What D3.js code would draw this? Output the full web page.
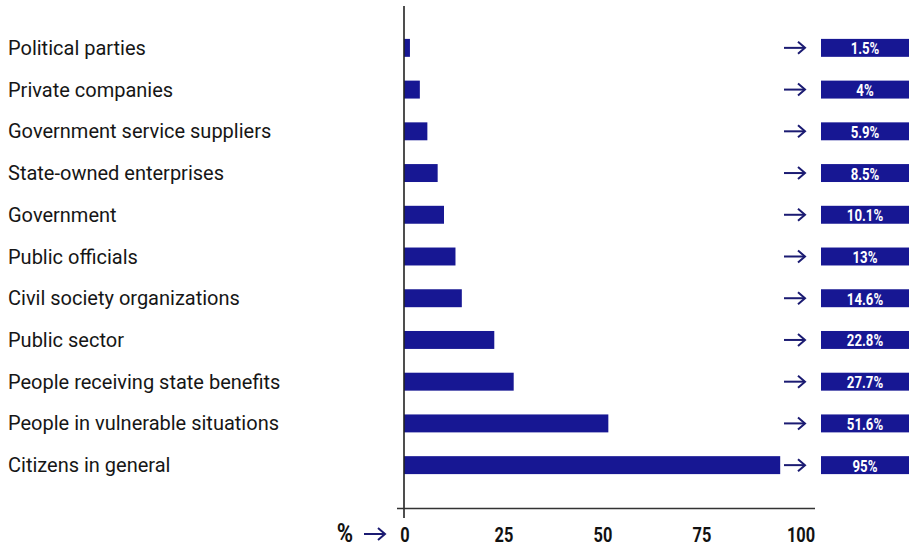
<!DOCTYPE html>
<html>
<head>
<meta charset="utf-8">
<script src="https://cdn.jsdelivr.net/npm/d3@7"></script>
<style>
  html, body { margin: 0; padding: 0; background: #fff; }
  svg { display: block; }
</style>
</head>
<body>
<svg id="chart" width="913" height="547"></svg>
<script>
const categories = [
  "Political parties",
  "Private companies",
  "Government service suppliers",
  "State-owned enterprises",
  "Government",
  "Public officials",
  "Civil society organizations",
  "Public sector",
  "People receiving state benefits",
  "People in vulnerable situations",
  "Citizens in general"
];
const values = [1.5, 4, 5.9, 8.5, 10.1, 13, 14.6, 22.8, 27.7, 51.6, 95];
const valueLabels = ["1.5%", "4%", "5.9%", "8.5%", "10.1%", "13%", "14.6%", "22.8%", "27.7%", "51.6%", "95%"];
const tickValues = [0, 25, 50, 75, 100];
const axisUnit = "%";

const barColor = "#171793";
const arrowColor = "#1b1b72";

const svg = d3.select("#chart");

const x = d3.scaleLinear().domain([0, 100]).range([404, 800]);
const y = d3.scaleBand().domain(categories).range([27, 486]).paddingInner(0.57).paddingOuter(0.285);

// bars
svg.append("g").selectAll("rect")
  .data(categories)
  .join("rect")
  .attr("x", x(0))
  .attr("y", d => y(d))
  .attr("width", (d, i) => x(values[i]) - x(0))
  .attr("height", y.bandwidth())
  .attr("fill", barColor);

// category labels
svg.append("g").selectAll("text")
  .data(categories)
  .join("text")
  .attr("x", 8)
  .attr("y", d => y(d) + y.bandwidth() / 2)
  .attr("dominant-baseline", "central")
  .attr("font-family", "Roboto, 'Noto Sans', sans-serif")
  .attr("font-size", 20)
  .attr("fill", "#161616")
  .text(d => d);

// arrow helper
function arrow(g, x0, yc, w, col) {
  g.append("line")
    .attr("x1", x0).attr("x2", x0 + w - 1)
    .attr("y1", yc).attr("y2", yc)
    .attr("stroke", col).attr("stroke-width", 2);
  g.append("path")
    .attr("d", `M${x0 + w - 7},${yc - 6} L${x0 + w},${yc} L${x0 + w - 7},${yc + 6}`)
    .attr("fill", "none").attr("stroke", col).attr("stroke-width", 2)
    .attr("stroke-linejoin", "miter");
}

// arrows + value boxes
const right = svg.append("g");
categories.forEach((c, i) => {
  const yc = y(c) + y.bandwidth() / 2;
  arrow(right, 784, yc, 21, arrowColor);
  right.append("rect")
    .attr("x", 821).attr("y", y(c))
    .attr("width", 88).attr("height", y.bandwidth())
    .attr("fill", barColor);
  right.append("text")
    .attr("transform", `translate(865,${yc + 1}) scale(0.8,1)`)
    .attr("text-anchor", "middle")
    .attr("dominant-baseline", "central")
    .attr("font-family", "Roboto, sans-serif")
    .attr("font-weight", "bold")
    .attr("font-size", 16.5)
    .attr("fill", "#fff")
    .text(valueLabels[i]);
});

// axis lines
svg.append("line")
  .attr("x1", x(0)).attr("x2", x(0))
  .attr("y1", 6).attr("y2", 518)
  .attr("stroke", "#222").attr("stroke-width", 1.6);
svg.append("line")
  .attr("x1", x(0) - 7).attr("x2", 815)
  .attr("y1", 508.5).attr("y2", 508.5)
  .attr("stroke", "#333").attr("stroke-width", 1.6);

// tick labels
svg.append("g").selectAll("text")
  .data(tickValues)
  .join("text")
  .attr("transform", d => `translate(${x(d) + 1},542) scale(0.78,1)`)
  .attr("text-anchor", "middle")
  .attr("font-family", "Roboto, sans-serif")
  .attr("font-weight", "bold")
  .attr("font-size", 21)
  .attr("fill", "#111")
  .text(d => d3.format("d")(d));

// unit label
svg.append("text")
  .attr("transform", "translate(345,542) scale(0.85,1)")
  .attr("text-anchor", "middle")
  .attr("font-family", "Roboto, sans-serif")
  .attr("font-weight", "bold")
  .attr("font-size", 26)
  .attr("fill", "#111")
  .text(axisUnit);
arrow(svg, 364, 534, 21, arrowColor);
</script>
</body>
</html>
